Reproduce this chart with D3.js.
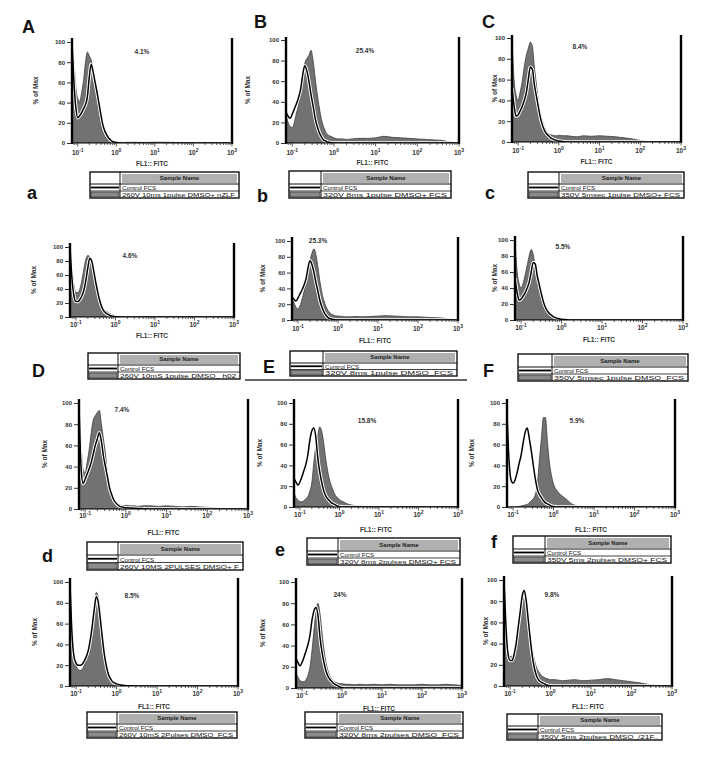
<!DOCTYPE html>
<html>
<head>
<meta charset="utf-8">
<script src="https://cdn.jsdelivr.net/npm/d3@7"></script>
<style>
body { margin: 0; background: #fff; }
svg { display: block; }
text { font-family: "Liberation Sans", Arial, sans-serif; }
</style>
</head>
<body>
<div id="chart"></div>
<script>
// FL1 positions (log10 units) shared by every histogram
var logGrid = [-1.15,-1.1,-1.05,-1,-0.95,-0.9,-0.85,-0.8,-0.75,-0.7,-0.65,-0.6,-0.55,-0.5,-0.45,-0.4,-0.35,-0.3,-0.25,-0.2,-0.15,-0.1,-0.05,0,
               0.1,0.2,0.3,0.45,0.6,0.8,1,1.2,1.4,1.6,1.8,2,2.2,2.4,2.6,2.8,3];

// % of max, control (open line) and treated sample (grey fill)
var ctrlA = [100,60,35,25,27,30,34,38,46,66,78,70,60,50,39,28,18,12,8,5,3,1.5,1,0.5, 0,0,0,0,0,0,0,0,0,0,0,0,0,0,0,0,0];
var sampA = [100,80,55,44,41,50,62,80,90,86,82,72,60,44,30,18,11,7,4,3,2,1.5,1.2,1, 1,0.8,1,1.3,1,1,1.5,1.2,1,0.8,0.6,0.5,0.4,0.3,0.3,0.2,0.2];
var ctrlB = [30,26,24,28,33,38,44,52,66,75,70,60,47,36,24,16,10,6,3,2,1,0.5,0.3,0, 0,0,0,0,0,0,0,0,0,0,0,0,0,0,0,0,0];
var sampB = [28,20,16,15,20,29,37,50,62,77,82,85,90,80,63,47,34,23,16,11,8,7,6,5, 4,4,3.5,4,4.5,4.5,5,6.5,5.5,5,4.5,4,3.5,3,2.5,0.8,0.3];
var ctrlC = [52,35,25,26,30,34,40,47,60,72,70,55,44,33,23,16,11,8,6,4,3,2,1.5,1, 0.5,0,0,0,0,0,0,0,0,0,0,0,0,0,0,0,0];
var sampC = [100,60,45,40,48,58,72,83,90,96,92,72,55,38,27,20,14,10,8,7,6.5,6,6,6.5, 6,6,5.5,5,6,5.5,6,5.5,5,4,3,1.5,0.5,0.2,0,0,0];
var ctrla = [100,55,30,22,22,25,30,38,52,70,84,80,66,50,36,24,15,9,6,4,2.5,1.5,1,0.5, 0.3,0,0,0,0,0,0,0,0,0,0,0,0,0,0,0,0];
var sampa = [100,70,45,35,35,40,52,68,82,88,86,78,64,48,34,22,15,11,9,7,5,3.5,2.5,1.5, 1,0.5,0.3,0.2,0.2,0.2,0.2,0.2,0.2,0.1,0.1,0.1,0,0,0,0,0];
var ctrlb = [30,26,24,28,33,38,44,52,66,75,70,60,47,36,24,16,10,6,3,2,1,0.5,0.3,0, 0,0,0,0,0,0,0,0,0,0,0,0,0,0,0,0,0];
var sampb = [30,22,16,14,18,26,36,48,62,75,85,90,82,66,48,34,24,17,12,9,7,6,5,5, 4.5,4,4,4.5,4,4.5,5,5.5,5,4.5,4,4,3.5,3,2.5,1,0.3];
var ctrlc = [52,35,25,26,30,34,40,47,60,72,70,55,44,33,23,16,11,8,6,4,3,2,1.5,1, 0.5,0,0,0,0,0,0,0,0,0,0,0,0,0,0,0,0];
var sampc = [100,62,46,40,46,56,68,80,88,82,66,50,36,26,18,12,8,5,4,3,2,1.5,1,1, 0.8,0.5,0.4,0.3,0.3,0.2,0.2,0.2,0.1,0,0,0,0,0,0,0,0];
var ctrlD = [100,40,24,28,33,38,44,52,60,66,72,64,50,40,30,20,14,9,6,4,2.5,2,1.5,1.2, 1,0.8,0.5,0.3,0,0,0,0,0,0,0,0,0,0,0,0,0];
var sampD = [100,60,37,34,44,56,72,84,88,91,93,80,66,52,33,22,15,10,7,5,4,3,3,3.5, 3,3,2.5,3,3,2.5,3,2.5,2,2.5,2,1.5,1,0.5,0.3,0,0];
var ctrlE = [28,24,21,24,29,35,41,50,64,73,76,68,48,34,24,16,11,8,6,4,3,2,1,0.5, 0,0,0,0,0,0,0,0,0,0,0,0,0,0,0,0,0];
var sampE = [14,9,7,5,5,6,8,10,15,23,42,58,68,77,73,62,47,35,26,20,15,11,9,7, 5,3,2,1,0.8,0.5,0.5,0.4,0.3,0.3,0.3,0.2,0.2,0.2,0.2,0.2,0.2];
var ctrlF = [90,45,26,23,26,33,42,50,62,72,76,66,54,40,27,17,12,9,6,4,3,2,1,0.5, 0,0,0,0,0,0,0,0,0,0,0,0,0,0,0,0,0];
var sampF = [0,0,0,0,0,0.3,0.5,1,1.5,2,2.5,4,6,8,12,22,45,66,86,86,62,42,30,22, 15,11,8,3,1,0.3,0,0,0,0,0,0,0,0,0,0,0];
var ctrld = [100,50,28,22,20,20,21,24,28,34,44,58,74,86,80,64,46,30,19,11,7,4,3,2, 1,0.5,0.3,0,0,0,0,0,0,0,0,0,0,0,0,0,0];
var sampd = [100,55,30,20,16,15,16,20,26,34,46,62,78,90,84,66,48,32,20,12,7,4,3,2, 1.5,1,0.5,0.3,0,0,0,0,0,0,0,0,0,0,0,0,0];
var ctrle = [28,24,21,24,29,35,41,50,64,73,76,68,48,34,24,16,11,8,6,4,3,2,1,0.5, 0,0,0,0,0,0,0,0,0,0,0,0,0,0,0,0,0];
var sampe = [14,10,7,6,6,8,12,20,35,55,72,80,70,52,36,24,16,11,8,6,5,4.5,4,4, 3.5,3.5,3,3.5,3,3.5,3,3.5,3,3,3,3.5,3,3,3.5,3,2.5];
var ctrlf = [100,55,30,24,24,30,40,55,70,85,90,80,62,44,28,17,10,6,4,3,2,1,0.5,0.3, 0,0,0,0,0,0,0,0,0,0,0,0,0,0,0,0,0];
var sampf = [100,60,35,28,28,33,45,60,76,86,88,80,64,48,35,25,18,14,11,9,8,7,6.5,6, 6,5.5,5,5.5,6,5,5.5,6,7,6,5,4,3,1.5,0.5,0,0];

var panelLetters = ['A','B','C','a','b','c','D','E','F','d','e','f'];
var percentLabels = ['4.1%','25.4%','8.4%','4.6%','25.3%','5.5%','7.4%','15.8%','5.9%','8.5%','24%','9.8%'];
var controlName = 'Control FCS';
var sampleNames = ['260V 10ms 1pulse DMSO+ nZLF','320V 8ms 1pulse DMSO+ FCS','350V 5msec 1pulse DMSO+ FCS',
                   '260V 10mS 1pulse DMSO_ h02','320V 8ms 1pulse DMSO_FCS','350V 5msec 1pulse DMSO_FCS',
                   '260V 10MS 2PULSES DMSO+ F','320V 8ms 2pulses DMSO+ FCS','350V 5ms 2pulses DMSO+ FCS',
                   '260V 10mS 2Pulses DMSO_FCS','320V 8ms 2pulses DMSO_FCS','350V 5ms 2pulses DMSO_/21F..'];
var yTicks = [0,20,40,60,80,100];
var xDecades = [-1,0,1,2,3];

var controls = [ctrlA,ctrlB,ctrlC,ctrla,ctrlb,ctrlc,ctrlD,ctrlE,ctrlF,ctrld,ctrle,ctrlf];
var samples = [sampA,sampB,sampC,sampa,sampb,sampc,sampD,sampE,sampF,sampd,sampe,sampf];

// page layout of each panel (pixels)
var layout = [
  {x0:72, x1:232, y100:42, y0:143, top:38, let:[22,33], pct:[142,54], ylab:38, tly:155, fl:166, lg:[90,172,149,26]},
  {x0:286, x1:459, y100:40, y0:143, top:37, let:[254,28], pct:[365,53], ylab:250, tly:155, fl:165, lg:[289,171,162,27]},
  {x0:512, x1:681, y100:38, y0:142, top:35, let:[482,28], pct:[580,49], ylab:497, tly:153, fl:164, lg:[528,172,156,26]},
  {x0:70, x1:234, y100:247, y0:317, top:243, let:[27,199], pct:[130,258], ylab:36, tly:327, fl:338, lg:[88,353,152,26]},
  {x0:292, x1:458, y100:241, y0:320, top:237, let:[257,202], pct:[318,243], ylab:265, tly:331, fl:343, lg:[290,351,167,25]},
  {x0:515, x1:683, y100:240, y0:320, top:236, let:[485,199], pct:[563,249], ylab:497, tly:330, fl:342, lg:[518,354,170,27]},
  {x0:79, x1:248, y100:403, y0:509, top:399, let:[32,377], pct:[122,412], ylab:47, tly:518, fl:535, lg:[87,542,156,28]},
  {x0:294, x1:458, y100:403, y0:507, top:399, let:[263,373], pct:[367,423], ylab:262, tly:517, fl:532, lg:[307,538,153,27]},
  {x0:507, x1:675, y100:403, y0:507, top:399, let:[483,377], pct:[577,423], ylab:474, tly:517, fl:532, lg:[513,536,158,27]},
  {x0:70, x1:238, y100:582, y0:686, top:578, let:[42,562], pct:[132,598], ylab:37, tly:696, fl:709, lg:[87,712,150,26]},
  {x0:296, x1:462, y100:582, y0:688, top:578, let:[275,556], pct:[340,597], ylab:265, tly:698, fl:711, lg:[305,712,158,26]},
  {x0:504, x1:672, y100:580, y0:686, top:576, let:[491,548], pct:[552,597], ylab:488, tly:696, fl:709, lg:[507,714,155,26]}
];

var svg = d3.select('#chart').append('svg')
    .attr('width', 723)
    .attr('height', 766);

svg.append('rect').attr('width', 723).attr('height', 766).attr('fill', '#fff');

// rule under the E legend
svg.append('line')
    .attr('x1', 245).attr('x2', 467).attr('y1', 380).attr('y2', 380)
    .attr('stroke', '#333').attr('stroke-width', 1.6);

layout.forEach(function(p, i){
    var g = svg.append('g');
    var x = d3.scaleLog()
        .domain([Math.pow(10, logGrid[0]), Math.pow(10, logGrid[logGrid.length - 1])])
        .range([p.x0, p.x1]);
    var y = d3.scaleLinear().domain([0, 100]).range([p.y0, p.y100]);

    var pts = logGrid.map(function(lg, k){
        return {v: Math.pow(10, lg), c: controls[i][k], s: samples[i][k]};
    });

    g.append('clipPath').attr('id', 'clip' + i)
        .append('rect')
        .attr('x', p.x0).attr('y', p.top)
        .attr('width', p.x1 - p.x0).attr('height', p.y0 - p.top);

    var plot = g.append('g').attr('clip-path', 'url(#clip' + i + ')');

    var area = d3.area()
        .x(function(d){ return x(d.v); })
        .y0(p.y0)
        .y1(function(d){ return y(d.s); })
        .curve(d3.curveMonotoneX);

    plot.append('path').datum(pts)
        .attr('d', area)
        .attr('fill', '#727272')
        .attr('stroke', '#3c3c3c')
        .attr('stroke-width', 0.8);

    var line = d3.line()
        .x(function(d){ return x(d.v); })
        .y(function(d){ return y(d.c); })
        .curve(d3.curveMonotoneX);

    plot.append('path').datum(pts)
        .attr('d', line).attr('fill', 'none')
        .attr('stroke', '#fff').attr('stroke-width', 3.4);
    plot.append('path').datum(pts)
        .attr('d', line).attr('fill', 'none')
        .attr('stroke', '#000').attr('stroke-width', 1.5);

    // frame: heavy left and right rules, light bottom
    g.append('line').attr('x1', p.x0).attr('x2', p.x0).attr('y1', p.top).attr('y2', p.y0 + 1)
        .attr('stroke', '#000').attr('stroke-width', 2.4);
    g.append('line').attr('x1', p.x1).attr('x2', p.x1).attr('y1', p.top).attr('y2', p.y0 + 1)
        .attr('stroke', '#000').attr('stroke-width', 2.4);
    g.append('line').attr('x1', p.x0).attr('x2', p.x1).attr('y1', p.y0).attr('y2', p.y0)
        .attr('stroke', '#000').attr('stroke-width', 1);

    // y axis
    var ya = g.append('g')
        .attr('transform', 'translate(' + (p.x0 - 1) + ',0)')
        .call(d3.axisLeft(y).tickValues(yTicks).tickSize(4).tickPadding(2));
    ya.select('.domain').remove();
    ya.selectAll('text').attr('font-size', 6).attr('font-weight', 'bold').attr('fill', '#333');
    ya.selectAll('line').attr('stroke', '#333');

    // x axis: minor log ticks and 10^n labels
    var minor = [];
    for (var e = -2; e < 3; e++) {
        for (var m = 1; m < 10; m++) {
            var v = m * Math.pow(10, e);
            if (v >= x.domain()[0] && v <= x.domain()[1]) minor.push({v: v, major: m === 1});
        }
    }
    minor.push({v: 1000, major: true});
    g.selectAll('.mt').data(minor).enter().append('line')
        .attr('x1', function(d){ return x(d.v); })
        .attr('x2', function(d){ return x(d.v); })
        .attr('y1', p.y0)
        .attr('y2', function(d){ return p.y0 + (d.major ? 3.5 : 2); })
        .attr('stroke', '#333').attr('stroke-width', 0.8);

    var xl = g.selectAll('.xl').data(xDecades).enter().append('text')
        .attr('x', function(d){ return x(Math.pow(10, d)); })
        .attr('y', p.tly)
        .attr('text-anchor', 'middle')
        .attr('font-size', 6.5)
        .attr('font-weight', 'bold')
        .attr('fill', '#333');
    xl.append('tspan').text('10');
    xl.append('tspan').attr('dy', -3).attr('font-size', 5).text(function(d){ return d; });

    g.append('text')
        .attr('x', (p.x0 + p.x1) / 2).attr('y', p.fl)
        .attr('text-anchor', 'middle')
        .attr('font-size', 6.5).attr('font-weight', 'bold').attr('fill', '#333')
        .text('FL1:: FITC');

    g.append('text')
        .attr('transform', 'translate(' + p.ylab + ',' + ((p.top + p.y0) / 2) + ') rotate(-90)')
        .attr('text-anchor', 'middle')
        .attr('font-size', 6.5).attr('font-weight', 'bold').attr('fill', '#333')
        .text('% of Max');

    g.append('text')
        .attr('x', p.pct[0]).attr('y', p.pct[1])
        .attr('text-anchor', 'middle')
        .attr('font-size', 6.5).attr('font-weight', 'bold').attr('fill', '#333')
        .text(percentLabels[i]);

    g.append('text')
        .attr('x', p.let[0]).attr('y', p.let[1])
        .attr('font-size', 18).attr('font-weight', 'bold').attr('fill', '#111')
        .text(panelLetters[i]);

    // legend table
    var lx = p.lg[0], ly = p.lg[1], lw = p.lg[2], lh = p.lg[3];
    var cw = Math.round(lw * 0.2);
    var hh = Math.round(lh * 0.48);
    var rh = (lh - hh) / 2;
    var lgG = g.append('g');
    lgG.append('rect').attr('x', lx + cw + 2).attr('y', ly + 2).attr('width', lw - cw - 4).attr('height', hh - 3)
        .attr('fill', '#b0b0b0');
    lgG.append('rect').attr('x', lx).attr('y', ly).attr('width', lw).attr('height', lh)
        .attr('fill', 'none').attr('stroke', '#111').attr('stroke-width', 1.4);
    lgG.append('line').attr('x1', lx + cw).attr('x2', lx + cw).attr('y1', ly).attr('y2', ly + lh)
        .attr('stroke', '#111').attr('stroke-width', 1);
    lgG.append('line').attr('x1', lx).attr('x2', lx + lw).attr('y1', ly + hh).attr('y2', ly + hh)
        .attr('stroke', '#111').attr('stroke-width', 1);
    lgG.append('line').attr('x1', lx).attr('x2', lx + lw).attr('y1', ly + hh + rh).attr('y2', ly + hh + rh)
        .attr('stroke', '#111').attr('stroke-width', 0.8);
    // row swatches
    lgG.append('line').attr('x1', lx + 1).attr('x2', lx + cw - 1)
        .attr('y1', ly + hh + rh / 2).attr('y2', ly + hh + rh / 2)
        .attr('stroke', '#000').attr('stroke-width', 1.8);
    lgG.append('rect').attr('x', lx + 1).attr('y', ly + hh + rh + 1).attr('width', cw - 2).attr('height', rh - 2)
        .attr('fill', '#8a8a8a').attr('stroke', '#222').attr('stroke-width', 0.6);
    lgG.append('text')
        .attr('x', lx + cw + (lw - cw) / 2).attr('y', ly + hh / 2 + 2.2)
        .attr('text-anchor', 'middle')
        .attr('font-size', 6).attr('font-weight', 'bold').attr('fill', '#222')
        .text('Sample Name');
    lgG.append('text')
        .attr('x', lx + cw + 2).attr('y', ly + hh + rh - 1)
        .attr('font-size', 6.2).attr('fill', '#111')
        .text(controlName);
    lgG.append('text')
        .attr('x', lx + cw + 2).attr('y', ly + lh - 1.2)
        .attr('font-size', 6.2).attr('fill', '#111')
        .attr('textLength', lw - cw - 6).attr('lengthAdjust', 'spacingAndGlyphs')
        .text(sampleNames[i]);
});
</script>
</body>
</html>
